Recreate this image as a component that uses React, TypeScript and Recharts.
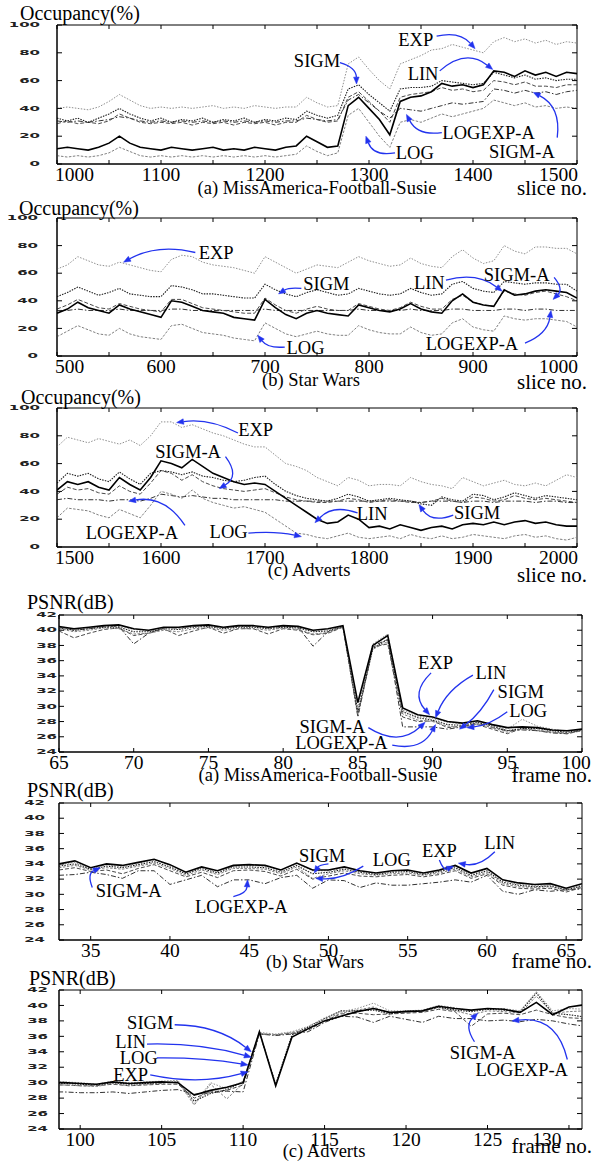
import React from 'react';
import { LineChart, Line, XAxis, YAxis, ReferenceLine, ReferenceDot, ReferenceArea } from 'recharts';

// ---------------- Panel 1: Occupancy, MissAmerica-Football-Susie ----------------
const p1Slices = [1000,1010,1020,1030,1040,1050,1060,1070,1080,1090,1100,1110,1120,1130,1140,1150,1160,1170,1180,1190,1200,1210,1220,1230,1240,1250,1260,1270,1280,1290,1300,1310,1320,1330,1340,1350,1360,1370,1380,1390,1400,1410,1420,1430,1440,1450,1460,1470,1480,1490,1500];
const p1Exp = [40,41,40,39,41,45,50,46,42,40, 41,40,41,40,41,42,40,41,40,42, 41,40,41,41,48,44,41,42,72,77, 68,60,54,72,75,78,82,83,86,84, 82,80,88,91,88,90,87,89,86,88, 87];
const p1Sigm = [33,31,33,30,33,36,40,36,33,31, 33,30,32,31,33,30,32,31,33,30, 32,31,33,32,38,35,33,35,54,57, 50,44,38,54,55,55,56,60,59,58, 57,58,66,64,62,64,61,62,60,61, 61];
const p1Lin = [11,12,11,10,12,15,20,15,12,11, 10,12,11,10,11,12,10,11,10,12, 11,10,12,13,20,16,12,13,42,48, 40,32,21,45,48,49,52,58,56,57, 55,57,67,66,63,67,64,66,63,66, 65];
const p1Log = [6,5,6,5,6,8,12,9,6,5, 6,5,6,5,6,5,6,5,6,5, 6,5,6,7,13,9,6,8,35,40, 30,20,12,30,32,30,33,36,34,36, 38,40,46,44,42,44,41,42,40,41, 40];
const p1LogExpA = [31,30,31,30,31,32,34,33,31,30, 31,30,31,30,31,30,31,30,31,30, 31,30,31,31,33,32,31,32,46,50, 44,38,33,40,39,38,40,42,44,43, 44,45,54,53,51,53,51,52,50,52, 53];
const p1SigmA = [29,31,29,30,29,31,36,33,30,29, 30,29,30,28,30,29,30,28,30,29, 30,28,30,30,35,32,30,31,48,52, 45,38,30,48,50,51,52,55,53,54, 52,53,60,59,57,59,56,56,55,57, 57];
const p1Ticks = [1000,1050,1100,1150,1200,1250,1300,1350,1400,1450,1500];

// ---------------- Panel 2: Occupancy, Star Wars ----------------
const p2Slices = [500,510,520,530,540,550,560,570,580,590,600,610,620,630,640,650,660,670,680,690,700,710,720,730,740,750,760,770,780,790,800,810,820,830,840,850,860,870,880,890,900,910,920,930,940,950,960,970,980,990,1000];
const p2Exp = [63,66,72,69,66,65,68,66,64,62, 61,70,73,72,68,66,65,64,62,60, 72,68,64,60,63,66,65,64,68,72, 69,67,65,66,71,67,65,64,72,77, 71,67,69,80,76,74,79,79,78,78, 74];
const p2Sigm = [43,46,50,47,44,46,49,45,44,43, 43,51,50,48,45,45,44,43,42,42, 52,48,45,43,46,48,46,44,45,49, 47,45,44,45,49,46,44,45,52,54, 49,47,46,54,53,52,53,53,52,52, 47];
const p2Lin = [31,34,39,35,33,31,37,34,32,30, 28,40,39,36,33,32,31,28,27,26, 41,35,30,27,31,33,31,30,29,37, 35,33,32,34,38,34,32,31,40,45, 39,37,36,48,44,45,47,48,47,46, 42];
const p2SigmA = [34,37,41,38,35,34,38,36,34,33, 32,41,41,38,35,34,33,32,31,31, 42,37,33,31,34,36,34,33,33,38, 36,34,33,35,39,36,34,34,41,44, 39,37,36,47,45,44,46,47,45,43, 40];
const p2LogExpA = [33,33,34,33,33,33,34,33,33,33, 33,34,34,33,33,33,33,33,33,33, 34,33,33,33,33,33,33,33,33,34, 33,33,33,33,34,33,33,33,34,34, 33,33,33,34,34,33,34,34,33,33, 33];
const p2Log = [14,18,22,19,16,15,20,16,14,13, 12,22,23,20,17,16,15,13,12,11, 24,20,16,14,16,18,16,15,15,22, 19,17,16,16,21,17,15,16,24,27, 21,19,18,29,27,26,27,27,26,25, 21];
const p2Ticks = [500,550,600,650,700,750,800,850,900,950,1000];

// ---------------- Panel 3: Occupancy, Adverts ----------------
const p3Slices = [1500,1510,1520,1530,1540,1550,1560,1570,1580,1590,1600,1610,1620,1630,1640,1650,1660,1670,1680,1690,1700,1710,1720,1730,1740,1750,1760,1770,1780,1790,1800,1810,1820,1830,1840,1850,1860,1870,1880,1890,1900,1910,1920,1930,1940,1950,1960,1970,1980,1990,2000];
const p3Exp = [72,79,77,75,78,76,74,77,73,80, 90,90,86,88,85,82,80,77,74,72, 72,66,60,58,55,50,47,44,50,48, 44,45,45,44,50,47,45,44,42,50, 47,44,46,48,45,44,46,44,48,52, 50];
const p3Lin = [41,47,45,47,43,41,50,45,41,50, 62,60,57,63,58,53,50,47,45,46, 45,40,35,30,25,20,17,18,23,20, 14,15,13,16,14,12,14,15,13,16, 17,16,18,16,18,19,17,18,16,15, 15];
const p3Sigm = [46,53,51,53,49,47,54,49,45,53, 55,54,52,54,51,50,48,47,48,50, 51,45,40,37,35,34,33,35,38,36, 33,34,35,34,33,31,30,36,34,33, 38,37,34,36,39,37,35,37,36,35, 34];
const p3SigmA = [38,43,41,42,39,38,44,40,38,46, 55,53,48,52,47,44,42,41,40,41, 42,39,36,34,33,32,32,33,35,34, 32,33,34,33,32,32,33,35,33,32, 36,35,33,34,37,35,34,35,34,33, 32];
const p3LogExpA = [34,35,34,34,34,33,34,34,33,35, 38,37,36,37,36,35,35,34,34,34, 34,34,33,33,33,33,33,33,33,33, 33,33,33,33,33,32,33,33,33,32, 33,33,32,33,33,33,32,33,33,32, 32];
const p3Log = [21,28,27,26,23,21,27,24,21,30, 40,38,35,41,35,32,30,28,29,27, 25,20,15,10,9,7,6,8,10,7, 6,7,8,6,9,7,6,8,6,7, 9,8,7,6,8,9,7,8,6,5, 7];
const p3Ticks = [1500,1550,1600,1650,1700,1750,1800,1850,1900,1950,2000];

// ---------------- Panel 4: PSNR, MissAmerica-Football-Susie ----------------
const p4Frames = [65,66,67,68,69,70,71,72,73,74,75,76,77,78,79,80,81,82,83,84,85,86,87,88,89,90,91,92,93,94,95,96,97,98,99,100];
const p4Lin = [40.5,40.2,40.4,40.6,40.7,40.2,40.0,40.4,40.4,40.6, 40.7,40.4,40.6,40.6,40.4,40.6,40.5,40.0,40.2,40.6, 30.5,38.0,39.3,29.8,28.9,28.6,28.0,27.8,28.1,27.6, 27.2,27.3,27.2,26.9,26.8,27.0];
const p4Exp = [40.4,40.1,40.3,40.5,40.5,40.1,39.9,40.3,40.2,40.5, 40.6,40.3,40.5,40.5,40.3,40.5,40.4,39.9,40.0,40.5, 29.8,38.2,39.5,29.5,28.7,28.4,27.9,27.7,28.0,27.5, 27.0,28.3,27.4,27.0,26.7,26.9];
const p4Sigm = [40.3,40.0,40.2,40.4,40.4,39.8,39.8,40.2,40.1,40.4, 40.5,40.2,40.4,40.4,40.2,40.4,40.3,39.8,39.9,40.5, 29.3,37.6,38.8,29.3,28.5,28.2,27.6,27.5,27.9,27.4, 26.8,27.1,27.1,26.8,26.6,26.9];
const p4Log = [40.2,39.8,40.0,40.3,40.2,39.5,39.6,40.0,39.8,40.2, 40.3,40.0,40.2,40.2,40.0,40.3,40.1,39.5,39.7,40.4, 29.0,37.5,38.5,29.0,28.2,28.0,27.4,27.2,27.7,27.2, 26.6,27.0,26.9,26.6,26.5,26.8];
const p4SigmA = [39.9,39.0,39.6,40.1,40.3,39.3,39.6,40.2,39.3,39.9, 40.4,39.6,40.2,40.2,39.5,40.2,40.0,39.4,39.6,40.4, 28.8,37.8,38.2,28.6,28.0,28.1,27.2,27.4,27.6,27.0, 26.4,27.1,26.8,26.6,26.4,26.8];
const p4LogExpA = [40.4,40.0,40.2,40.5,40.5,38.2,39.6,40.3,40.3,40.5, 40.6,40.3,40.5,40.5,40.3,40.5,40.4,37.9,39.8,40.5, 28.6,37.9,38.8,27.3,27.3,27.3,27.0,27.3,27.8,27.2, 26.8,26.9,26.8,26.5,26.4,26.9];
const p4Ticks = [65,70,75,80,85,90,95,100];

// ---------------- Panel 5: PSNR, Star Wars ----------------
const p5Frames = [33,34,35,36,37,38,39,40,41,42,43,44,45,46,47,48,49,50,51,52,53,54,55,56,57,58,59,60,61,62,63,64,65,66];
const p5Lin = [34.0,34.4,33.5,34.0,33.8,34.2,34.6,33.9,32.9,33.6,33.1,33.8,33.9,33.8,33.2,34.1,33.2,33.2,33.6,33.1,32.8,33.1,33.2,32.8,33.2,33.8,32.8,33.4,31.9,31.5,31.3,31.4,30.8,31.4];
const p5Exp = [33.9,34.2,33.4,33.9,33.6,34.1,34.5,33.8,32.8,33.5,33.0,33.7,33.8,33.7,33.1,34.0,33.1,33.1,33.4,33.0,32.7,33.0,33.1,32.7,33.1,33.7,32.7,33.3,31.8,31.3,31.1,31.2,30.7,31.2];
const p5Sigm = [33.7,34.0,33.3,33.7,33.5,33.9,34.3,33.6,32.7,33.4,32.8,33.6,33.6,33.5,32.9,33.8,32.7,32.9,33.3,32.9,32.6,32.9,33.0,32.6,33.0,33.5,32.5,33.1,31.6,31.2,31.0,31.1,30.6,31.1];
const p5Log = [33.5,33.8,33.2,33.5,33.3,33.7,34.1,33.4,32.5,33.2,32.6,33.4,33.4,33.3,32.7,33.6,32.1,32.7,33.1,32.7,32.5,32.7,32.8,32.5,32.8,33.3,32.3,32.9,31.4,31.0,30.9,31.0,30.5,31.0];
const p5SigmA = [33.2,33.5,33.0,33.2,32.7,33.4,33.9,33.1,32.3,32.9,32.2,33.1,33.2,33.0,32.4,33.3,32.0,32.4,32.8,32.4,32.3,32.5,32.6,32.3,32.6,33.1,32.1,32.7,31.2,30.8,30.7,30.8,30.3,30.9];
const p5LogExpA = [32.5,32.6,32.9,32.6,32.1,33.1,33.1,31.3,31.9,32.5,31.0,31.9,31.9,31.4,32.2,32.5,30.8,31.9,31.8,30.9,31.5,31.2,31.2,31.4,31.6,31.9,31.6,32.5,30.4,30.0,30.6,30.4,30.6,30.7];
const p5Ticks = [35,40,45,50,55,60,65];

// ---------------- Panel 6: PSNR, Adverts ----------------
const p6Frames = [98,99,100,101,102,103,104,105,106,107,108,109,110,111,112,113,114,115,116,117,118,119,120,121,122,123,124,125,126,127,128,129,130,131];
const p6Lin = [30.0,30.0,29.9,29.8,30.1,29.9,30.0,30.1,30.0,28.4, 29.0,29.4,30.0,36.6,29.6,35.9,37.0,38.0,38.6,39.2, 39.6,39.1,39.2,39.3,39.9,39.6,39.4,39.6,39.5,39.1, 40.4,38.8,39.8,40.1];
const p6Exp = [30.1,30.1,30.0,29.8,30.2,30.0,30.1,30.2,30.3,27.3, 30.0,29.2,30.2,36.5,36.3,36.6,37.3,38.4,39.2,39.6, 40.3,39.3,39.3,39.4,40.0,39.7,39.3,39.6,39.6,39.3, 41.8,39.3,39.6,39.5];
const p6Sigm = [30.0,29.9,29.8,29.7,30.0,29.8,29.9,30.0,30.1,27.6, 28.6,29.1,30.1,36.5,29.8,36.2,37.2,38.3,39.3,39.3, 39.4,38.9,39.3,39.3,39.8,39.4,39.2,39.5,39.4,39.2, 41.6,39.0,38.8,38.5];
const p6Log = [29.8,29.7,29.6,29.5,29.9,29.6,29.8,29.9,30.1,27.1, 29.8,27.9,29.9,36.4,36.2,36.5,37.0,38.2,39.0,39.4, 39.8,39.0,39.2,39.2,39.7,39.3,38.8,39.3,39.2,39.0, 41.2,39.0,39.2,39.3];
const p6SigmA = [29.7,29.7,29.6,29.6,29.8,29.6,29.7,29.8,29.8,28.0, 28.8,29.0,29.7,36.3,36.2,36.4,36.8,38.0,38.9,39.0, 38.8,38.9,39.0,39.1,39.5,39.2,37.3,38.9,39.0,38.8, 39.4,38.8,38.4,38.3];
const p6LogExpA = [28.8,28.8,28.7,28.7,28.8,28.6,28.8,29.0,29.1,28.5, 28.7,28.9,28.8,36.3,36.1,36.3,36.6,37.8,38.6,38.5, 37.8,38.6,38.2,37.8,38.6,38.3,38.3,38.0,38.1,37.9, 38.2,38.0,37.6,37.3];
const p6Ticks = [100,105,110,115,120,125,130];

const occYTicks = [0,20,40,60,80,100];
const psnrYTicks = [24,26,28,30,32,34,36,38,40,42];

// ---------------- annotations (text position, arrow start, arrow tip in data units) ----------------
type Ann = { t: string; tx: number; ty: number; sx: number; sy: number; ex: number; ey: number; bend: number };
const p1Anns: Ann[] = [
  { t: 'SIGM', tx: 1250, ty: 74, sx: 1272, sy: 73, ex: 1288, ey: 57.5, bend: -10 },
  { t: 'EXP', tx: 1345, ty: 89, sx: 1365, sy: 92, ex: 1402, ey: 83, bend: -12 },
  { t: 'LIN', tx: 1352, ty: 65, sx: 1368, sy: 67, ex: 1419, ey: 68, bend: -22 },
  { t: 'LOGEXP-A', tx: 1415, ty: 22.6, sx: 1370, sy: 22.6, ex: 1336, ey: 35.7, bend: -14 },
  { t: 'LOG', tx: 1344, ty: 8, sx: 1325, sy: 8, ex: 1297, ey: 20, bend: -14 },
  { t: 'SIGM-A', tx: 1447, ty: 8.7, sx: 1481, sy: 19, ex: 1458, ey: 51.5, bend: 18 },
];
const p2Anns: Ann[] = [
  { t: 'EXP', tx: 653, ty: 75, sx: 633, sy: 75, ex: 564, ey: 68, bend: 14 },
  { t: 'SIGM', tx: 759, ty: 52, sx: 735, sy: 49, ex: 713, ey: 45, bend: 4 },
  { t: 'LOG', tx: 739, ty: 6, sx: 719, sy: 6.5, ex: 693, ey: 15, bend: -8 },
  { t: 'LIN', tx: 858, ty: 53, sx: 874, sy: 55, ex: 928, ey: 47, bend: -14 },
  { t: 'SIGM-A', tx: 942, ty: 59, sx: 978, sy: 57, ex: 977, ey: 41, bend: -10 },
  { t: 'LOGEXP-A', tx: 899, ty: 8.7, sx: 950, sy: 9.4, ex: 975, ey: 33, bend: 12 },
];
const p3Anns: Ann[] = [
  { t: 'EXP', tx: 1691, ty: 84.5, sx: 1674, sy: 82, ex: 1615, ey: 89.5, bend: 10 },
  { t: 'SIGM-A', tx: 1626, ty: 68, sx: 1662, sy: 65, ex: 1656, ey: 42, bend: -18 },
  { t: 'LOGEXP-A', tx: 1572, ty: 10, sx: 1623, sy: 15.5, ex: 1569, ey: 33, bend: 20 },
  { t: 'LOG', tx: 1665, ty: 11, sx: 1684, sy: 10, ex: 1735, ey: 7.5, bend: -4 },
  { t: 'LIN', tx: 1803, ty: 23.5, sx: 1789, sy: 24.5, ex: 1748, ey: 17.5, bend: 14 },
  { t: 'SIGM', tx: 1904, ty: 24.5, sx: 1881, sy: 23, ex: 1848, ey: 30.5, bend: -14 },
];
const p4Anns: Ann[] = [
  { t: 'EXP', tx: 90.2, ty: 35.7, sx: 89.9, sy: 34.4, ex: 89.8, ey: 28.9, bend: 20 },
  { t: 'LIN', tx: 93.9, ty: 34.4, sx: 92.7, sy: 34.1, ex: 90.2, ey: 28.5, bend: 10 },
  { t: 'SIGM', tx: 95.9, ty: 31.9, sx: 94.1, sy: 32.2, ex: 91.8, ey: 27.0, bend: -6 },
  { t: 'LOG', tx: 96.4, ty: 29.4, sx: 95.0, sy: 29.3, ex: 92.3, ey: 27.2, bend: -6 },
  { t: 'SIGM-A', tx: 83.3, ty: 27.3, sx: 85.7, sy: 27.2, ex: 89.5, ey: 27.9, bend: 22 },
  { t: 'LOGEXP-A', tx: 83.9, ty: 25.2, sx: 87.3, sy: 24.9, ex: 90.2, ey: 27.6, bend: 18 },
];
const p5Anns: Ann[] = [
  { t: 'SIGM-A', tx: 37.4, ty: 30.4, sx: 35.1, sy: 30.9, ex: 35.6, ey: 33.5, bend: -10 },
  { t: 'LOGEXP-A', tx: 44.5, ty: 28.3, sx: 44.0, sy: 29.7, ex: 44.9, ey: 31.9, bend: 8 },
  { t: 'SIGM', tx: 49.6, ty: 35.1, sx: 50.0, sy: 34.0, ex: 49.1, ey: 32.8, bend: 4 },
  { t: 'LOG', tx: 54.0, ty: 34.5, sx: 52.2, sy: 33.7, ex: 49.2, ey: 32.1, bend: -8 },
  { t: 'EXP', tx: 57.0, ty: 35.7, sx: 57.0, sy: 34.5, ex: 57.9, ey: 33.7, bend: 8 },
  { t: 'LIN', tx: 60.8, ty: 36.7, sx: 60.5, sy: 35.6, ex: 58.2, ey: 34.1, bend: -10 },
];
const p6Anns: Ann[] = [
  { t: 'SIGM', tx: 104.3, ty: 37.7, sx: 105.8, sy: 37.5, ex: 110.5, ey: 34.0, bend: -14 },
  { t: 'LIN', tx: 103.1, ty: 35.3, sx: 104.1, sy: 35.0, ex: 110.5, ey: 33.3, bend: -8 },
  { t: 'LOG', tx: 103.6, ty: 33.2, sx: 104.7, sy: 33.2, ex: 110.3, ey: 32.3, bend: -4 },
  { t: 'EXP', tx: 103.1, ty: 31.0, sx: 104.3, sy: 31.0, ex: 110.3, ey: 31.4, bend: 12 },
  { t: 'SIGM-A', tx: 124.7, ty: 33.8, sx: 124.2, sy: 35.3, ex: 124.4, ey: 39.0, bend: -12 },
  { t: 'LOGEXP-A', tx: 127.1, ty: 31.7, sx: 129.9, sy: 33.0, ex: 126.5, ey: 38.0, bend: 30 },
];

// ---------------- styling ----------------
const BLUE = '#2233ee';
const SERIF = "'Liberation Serif', 'Times New Roman', serif";

type SeriesStyle = { key: string; stroke: string; width: number; dash?: string };
const SERIES_STYLES: SeriesStyle[] = [
  { key: 'logexpa', stroke: '#333333', width: 1, dash: '5 2 1.5 2' },
  { key: 'sigma', stroke: '#4a4a4a', width: 1, dash: '4 2' },
  { key: 'log', stroke: '#808080', width: 1, dash: '2.5 1.5' },
  { key: 'sigm', stroke: '#1e1e1e', width: 1.1, dash: '1.5 1.2' },
  { key: 'exp', stroke: '#8f8f8f', width: 1, dash: '1.5 1.5' },
  { key: 'lin', stroke: '#000000', width: 1.6 },
];

function buildRows(xs: number[], cols: Record<string, number[]>) {
  return xs.map((x, i) => {
    const r: Record<string, number> = { x };
    Object.keys(cols).forEach((k) => { r[k] = cols[k][i]; });
    return r;
  });
}

type PanelCfg = {
  top: number; height: number; left: number; right: number; plotTop: number; plotBottom: number;
  xDomain: [number, number]; xTicks: number[]; labelEvery: number; clampEnds: boolean; lastDx: number;
  yDomain: [number, number]; yTicks: number[]; yGap: number;
  rows: Record<string, number>[]; anns: Ann[];
};

const PANELS: PanelCfg[] = [
  { top: 0, height: 200, left: 57, right: 577, plotTop: 25, plotBottom: 164, xDomain: [1000, 1500], xTicks: p1Ticks, labelEvery: 100, clampEnds: true, lastDx: 0,
    yDomain: [0, 100], yTicks: occYTicks, yGap: 17,
    rows: buildRows(p1Slices, { exp: p1Exp, sigm: p1Sigm, lin: p1Lin, log: p1Log, logexpa: p1LogExpA, sigma: p1SigmA }), anns: p1Anns },
  { top: 196, height: 200, left: 57, right: 577, plotTop: 218, plotBottom: 356, xDomain: [500, 1000], xTicks: p2Ticks, labelEvery: 100, clampEnds: true, lastDx: 0,
    yDomain: [0, 100], yTicks: occYTicks, yGap: 19,
    rows: buildRows(p2Slices, { exp: p2Exp, sigm: p2Sigm, lin: p2Lin, log: p2Log, logexpa: p2LogExpA, sigma: p2SigmA }), anns: p2Anns },
  { top: 390, height: 190, left: 57, right: 577, plotTop: 408, plotBottom: 547, xDomain: [1500, 2000], xTicks: p3Ticks, labelEvery: 100, clampEnds: true, lastDx: 0,
    yDomain: [0, 100], yTicks: occYTicks, yGap: 17,
    rows: buildRows(p3Slices, { exp: p3Exp, sigm: p3Sigm, lin: p3Lin, log: p3Log, logexpa: p3LogExpA, sigma: p3SigmA }), anns: p3Anns },
  { top: 592, height: 195, left: 59, right: 582, plotTop: 615, plotBottom: 752, xDomain: [65, 100], xTicks: p4Ticks, labelEvery: 5, clampEnds: false, lastDx: -6,
    yDomain: [24, 42], yTicks: psnrYTicks, yGap: 2,
    rows: buildRows(p4Frames, { exp: p4Exp, sigm: p4Sigm, lin: p4Lin, log: p4Log, logexpa: p4LogExpA, sigma: p4SigmA }), anns: p4Anns },
  { top: 790, height: 180, left: 59, right: 582, plotTop: 803, plotBottom: 940, xDomain: [33, 66], xTicks: p5Ticks, labelEvery: 5, clampEnds: false, lastDx: 0,
    yDomain: [24, 42], yTicks: psnrYTicks, yGap: 14,
    rows: buildRows(p5Frames, { exp: p5Exp, sigm: p5Sigm, lin: p5Lin, log: p5Log, logexpa: p5LogExpA, sigma: p5SigmA }), anns: p5Anns },
  { top: 975, height: 190, left: 59, right: 582, plotTop: 990, plotBottom: 1129, xDomain: [98.7, 130.8], xTicks: p6Ticks, labelEvery: 5, clampEnds: false, lastDx: -22,
    yDomain: [24, 42], yTicks: psnrYTicks, yGap: 11,
    rows: buildRows(p6Frames, { exp: p6Exp, sigm: p6Sigm, lin: p6Lin, log: p6Log, logexpa: p6LogExpA, sigma: p6SigmA }), anns: p6Anns },
];

const OVERLAY_TEXTS = [
  { t: 'Occupancy(%)', x: 20, y: 20, a: 'start', s: 20 },
  { t: '(a) MissAmerica-Football-Susie', x: 317, y: 194, a: 'middle', s: 18.5 },
  { t: 'slice no.', x: 587, y: 195, a: 'end', s: 21 },
  { t: 'Occupancy(%)', x: 19, y: 215, a: 'start', s: 20 },
  { t: '(b) Star Wars', x: 311, y: 386, a: 'middle', s: 18.5 },
  { t: 'slice no.', x: 587, y: 389, a: 'end', s: 21 },
  { t: 'Occupancy(%)', x: 21, y: 404, a: 'start', s: 20 },
  { t: '(c) Adverts', x: 309, y: 576, a: 'middle', s: 18.5 },
  { t: 'slice no.', x: 587, y: 582, a: 'end', s: 21 },
  { t: 'PSNR(dB)', x: 27, y: 609, a: 'start', s: 20 },
  { t: '(a) MissAmerica-Football-Susie', x: 318, y: 781, a: 'middle', s: 18.5 },
  { t: 'frame no.', x: 592, y: 782, a: 'end', s: 21 },
  { t: 'PSNR(dB)', x: 27, y: 797, a: 'start', s: 20 },
  { t: '(b) Star Wars', x: 315, y: 968, a: 'middle', s: 18.5 },
  { t: 'frame no.', x: 592, y: 968, a: 'end', s: 21 },
  { t: 'PSNR(dB)', x: 29, y: 985, a: 'start', s: 20 },
  { t: '(c) Adverts', x: 324, y: 1157, a: 'middle', s: 18.5 },
  { t: 'frame no.', x: 592, y: 1153, a: 'end', s: 21 },
];

// ---------------- render helpers ----------------
function arrowShape(bend: number) {
  return (p: any) => {
    const { x1, y1, x2, y2 } = p;
    const dx = x2 - x1, dy = y2 - y1;
    const len = Math.hypot(dx, dy) || 1;
    const cx = (x1 + x2) / 2 + (-dy / len) * bend;
    const cy = (y1 + y2) / 2 + (dx / len) * bend;
    const ax = x2 - cx, ay = y2 - cy;
    const al = Math.hypot(ax, ay) || 1;
    const ux = ax / al, uy = ay / al;
    const hl = 7, hw = 2.8;
    const bx = x2 - ux * hl, by = y2 - uy * hl;
    const pts = `${x2},${y2} ${bx - uy * hw},${by + ux * hw} ${bx + uy * hw},${by - ux * hw}`;
    return (
      <g>
        <path d={`M${x1},${y1} Q${cx},${cy} ${bx},${by}`} fill="none" stroke={BLUE} strokeWidth={1.3} />
        <polygon points={pts} fill={BLUE} stroke={BLUE} strokeWidth={0.5} />
      </g>
    );
  };
}

function makeXTick(cfg: PanelCfg) {
  const plotH = cfg.plotBottom - cfg.plotTop;
  const lastTick = cfg.xTicks[cfg.xTicks.length - 1];
  return (props: any) => {
    const { x, y, payload } = props;
    const v = payload.value;
    const labeled = Math.abs(v % cfg.labelEvery) < 1e-9;
    let anchor: 'middle' | 'start' | 'end' = 'middle';
    let tx = x;
    if (cfg.clampEnds && v === cfg.xDomain[0]) { anchor = 'start'; tx = x - 2; }
    if (cfg.clampEnds && v === cfg.xDomain[1]) { anchor = 'end'; tx = x + 1; }
    if (!cfg.clampEnds && v === lastTick) { tx = x + cfg.lastDx; }
    return (
      <g>
        <line x1={x} y1={y} x2={x} y2={y - 4} stroke="#000" strokeWidth={1} />
        <line x1={x} y1={y - plotH} x2={x} y2={y - plotH + 4} stroke="#000" strokeWidth={1} />
        {labeled && (
          <text x={tx} y={y + 17} textAnchor={anchor} fontFamily={SERIF} fontSize={19.5} fill="#000">{v}</text>
        )}
      </g>
    );
  };
}

function makeYTick(cfg: PanelCfg) {
  const plotW = cfg.right - cfg.left;
  return (props: any) => {
    const { x, y, payload } = props;
    return (
      <g>
        <line x1={x} y1={y} x2={x + 5} y2={y} stroke="#000" strokeWidth={1} />
        <line x1={x + plotW} y1={y} x2={x + plotW - 5} y2={y} stroke="#000" strokeWidth={1} />
        <text transform={`translate(${x - cfg.yGap},${y}) scale(2,0.85)`} textAnchor="end" dominantBaseline="central"
          fontFamily="'DejaVu Sans', sans-serif" fontWeight="bold" fontSize={7.5} fill="#222">{payload.value}</text>
      </g>
    );
  };
}

function Panel({ cfg }: { cfg: PanelCfg }) {
  const W = 594;
  const margin = {
    top: cfg.plotTop - cfg.top,
    left: cfg.left - 40,
    right: W - cfg.right,
    bottom: cfg.top + cfg.height - cfg.plotBottom - 30,
  };
  return (
    <div style={{ position: 'absolute', left: 0, top: cfg.top, width: W, height: cfg.height }}>
      <LineChart width={W} height={cfg.height} data={cfg.rows} margin={margin}>
        <XAxis type="number" dataKey="x" domain={cfg.xDomain} ticks={cfg.xTicks} allowDataOverflow interval={0}
          height={30} tickSize={0} tickMargin={0} axisLine={{ stroke: '#000' }} tickLine={false} tick={makeXTick(cfg)} />
        <YAxis type="number" domain={cfg.yDomain} ticks={cfg.yTicks} allowDataOverflow interval={0}
          width={40} tickSize={0} tickMargin={0} axisLine={{ stroke: '#000' }} tickLine={false} tick={makeYTick(cfg)} />
        <ReferenceArea x1={cfg.xDomain[0]} x2={cfg.xDomain[1]} y1={cfg.yDomain[0]} y2={cfg.yDomain[1]}
          fill="none" fillOpacity={0} stroke="#000" strokeWidth={1} ifOverflow="visible" />
        {SERIES_STYLES.map((s) => (
          <Line key={s.key} type="linear" dataKey={s.key} stroke={s.stroke} strokeWidth={s.width}
            strokeDasharray={s.dash} dot={false} activeDot={false} isAnimationActive={false} />
        ))}
        {cfg.anns.map((a, i) => (
          <ReferenceLine key={'al' + i} segment={[{ x: a.sx, y: a.sy }, { x: a.ex, y: a.ey }]} ifOverflow="visible"
            shape={arrowShape(a.bend)} />
        ))}
        {cfg.anns.map((a, i) => (
          <ReferenceDot key={'at' + i} x={a.tx} y={a.ty} r={0} ifOverflow="visible"
            shape={(p: any) => (
              <text x={p.cx} y={p.cy} textAnchor="middle" dominantBaseline="central" fontFamily={SERIF}
                fontSize={18.5} fill="#000">{a.t}</text>
            )} />
        ))}
      </LineChart>
    </div>
  );
}

export default function App() {
  return (
    <div style={{ position: 'absolute', left: 0, top: 0, width: 594, height: 1165, background: '#fff', overflow: 'hidden' }}>
      {PANELS.map((cfg, i) => <Panel key={i} cfg={cfg} />)}
      <svg width={594} height={1165} style={{ position: 'absolute', left: 0, top: 0, pointerEvents: 'none' }}>
        {OVERLAY_TEXTS.map((o, i) => (
          <text key={i} x={o.x} y={o.y} textAnchor={o.a as any} fontFamily={SERIF} fontSize={o.s} fill="#000">{o.t}</text>
        ))}
      </svg>
    </div>
  );
}
